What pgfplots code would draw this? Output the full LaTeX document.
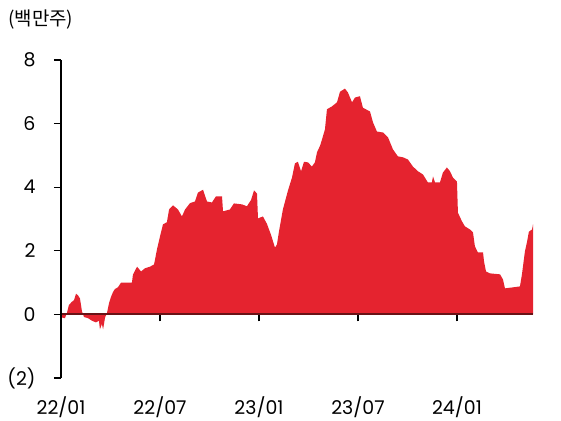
\documentclass[border=0pt]{standalone}
\usepackage{fontspec}
\setmainfont{Poppins}
\newfontfamily\kr{Noto Sans CJK KR}
\usepackage{pgfplots}
\usepackage{pgfplotstable}
\pgfplotsset{compat=1.18}
\definecolor{areaRed}{RGB}{229,35,47}
\definecolor{zeroLine}{RGB}{105,18,22}

% months since 2022/01, short position in millions of shares
\pgfplotstableread{
m v
0.00 0.00
0.06 -0.10
0.24 -0.12
0.36 0.05
0.48 0.30
0.67 0.40
0.79 0.45
0.91 0.65
1.03 0.60
1.15 0.50
1.27 0.10
1.39 -0.08
1.64 -0.12
1.88 -0.20
2.12 -0.25
2.30 -0.20
2.36 -0.47
2.48 -0.30
2.55 -0.47
2.67 -0.10
2.79 0.05
2.91 0.35
3.03 0.55
3.15 0.70
3.27 0.80
3.45 0.85
3.64 1.00
4.06 1.00
4.30 1.00
4.36 1.25
4.61 1.50
4.85 1.35
5.09 1.45
5.39 1.50
5.64 1.57
5.82 2.05
6.00 2.45
6.18 2.83
6.42 2.90
6.55 3.30
6.79 3.43
7.09 3.30
7.33 3.08
7.52 3.30
7.82 3.50
8.12 3.55
8.30 3.83
8.61 3.92
8.85 3.55
9.15 3.52
9.39 3.71
9.76 3.71
9.82 3.24
10.24 3.30
10.48 3.49
10.97 3.46
11.27 3.40
11.52 3.60
11.70 3.90
11.88 3.80
11.94 3.02
12.24 3.08
12.48 2.85
12.73 2.50
12.97 2.10
13.09 2.20
13.21 2.60
13.45 3.30
13.76 3.90
14.00 4.30
14.18 4.75
14.36 4.80
14.55 4.50
14.73 4.80
14.97 4.78
15.21 4.65
15.39 4.78
15.52 5.10
15.70 5.30
15.82 5.50
16.00 5.82
16.12 6.45
16.42 6.54
16.73 6.67
16.91 7.00
17.21 7.10
17.39 6.98
17.64 6.67
17.82 6.82
18.12 6.86
18.30 6.50
18.73 6.38
18.91 6.04
19.15 5.75
19.52 5.72
19.82 5.57
20.12 5.19
20.42 4.97
20.73 4.94
21.03 4.87
21.33 4.65
21.64 4.50
21.94 4.40
22.24 4.15
22.48 4.15
22.55 4.34
22.67 4.15
22.97 4.15
23.15 4.46
23.39 4.62
23.58 4.50
23.76 4.30
24.00 4.18
24.06 3.20
24.30 2.93
24.48 2.77
24.79 2.67
24.97 2.58
25.09 2.14
25.27 1.95
25.58 1.95
25.64 1.67
25.76 1.35
26.00 1.29
26.61 1.26
26.79 1.10
26.91 0.82
27.39 0.85
27.82 0.88
27.94 1.26
28.00 1.50
28.12 1.98
28.24 2.26
28.36 2.60
28.55 2.67
28.61 2.83
}\shorttable

\begin{document}
\begin{tikzpicture}
\begin{axis}[
  at={(0,0)}, anchor=south west,
  scale only axis, width=472bp, height=318bp,
  xmin=0, xmax=28.61, ymin=-2, ymax=8,
  axis x line=middle, axis y line=left,
  axis on top,
  hide obscured x ticks=false, hide obscured y ticks=false,
  x axis line style={-, draw=zeroLine, line width=1.8bp},
  y axis line style={-, draw=black, line width=1.1bp},
  xtick={0,6,12,18,24},
  xticklabels={22/01,22/07,23/01,23/07,24/01},
  ytick={-2,0,2,4,6,8},
  yticklabels={(2),0,2,4,6,8},
  tick align=outside,
  major tick length=7bp,
  every tick/.style={black, line width=1.1bp},
  xticklabel style={font=\fontsize{19}{19}\selectfont, anchor=center, yshift=-86bp},
  yticklabel style={font=\fontsize{19}{19}\selectfont, anchor=east, xshift=-15bp},
]
\addplot[fill=areaRed, draw=none] table[x=m, y=v] {\shorttable} \closedcycle;
\end{axis}
\node[anchor=west, font=\kr\fontsize{19}{19}\selectfont, inner sep=0pt] at (-53bp,358bp) {(백만주)};
\pgfresetboundingbox
\path[use as bounding box] (-61bp,-43bp) rectangle (500bp,378bp);
\end{tikzpicture}
\end{document}
